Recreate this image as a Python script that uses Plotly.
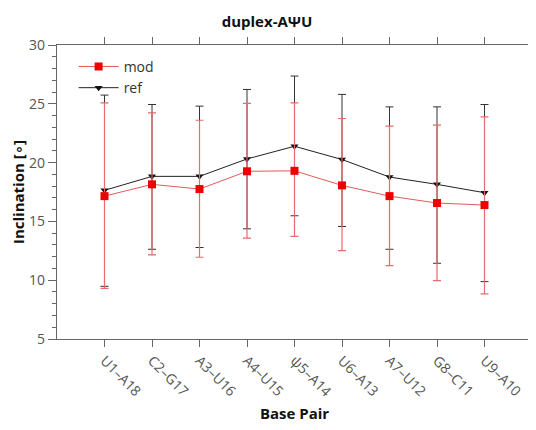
import plotly.graph_objects as go

categories = ["U1–A18", "C2–G17", "A3–U16", "A4–U15", "ψ5–A14", "U6–A13", "A7–U12", "G8–C11", "U9–A10"]
positions = [1, 2, 3, 4, 5, 6, 7, 8, 9]

mod_mean = [17.15, 18.15, 17.75, 19.26, 19.3, 18.06, 17.15, 16.56, 16.39]
mod_upper = [25.08, 24.23, 23.6, 25.03, 25.08, 23.75, 23.1, 23.18, 23.89]
mod_lower = [9.31, 12.16, 11.95, 13.57, 13.72, 12.52, 11.24, 9.97, 8.83]

ref_mean = [17.64, 18.83, 18.83, 20.31, 21.39, 20.26, 18.77, 18.15, 17.44]
ref_upper = [25.74, 24.94, 24.8, 26.22, 27.36, 25.8, 24.74, 24.74, 24.94]
ref_lower = [9.48, 12.63, 12.78, 14.37, 15.48, 14.57, 12.63, 11.44, 9.88]

font_family = "Open Sans, Noto Sans, DejaVu Sans, sans-serif"

fig = go.Figure()

fig.add_trace(go.Scatter(
    x=positions, y=ref_mean, name="ref", mode="lines+markers",
    line=dict(color="#222222", width=1),
    marker=dict(symbol="triangle-down", size=7, color="#111111"),
    error_y=dict(type="data", symmetric=False,
                 array=[u - m for u, m in zip(ref_upper, ref_mean)],
                 arrayminus=[m - l for m, l in zip(ref_mean, ref_lower)],
                 color="#333333", thickness=1, width=4),
    legendrank=2,
))

fig.add_trace(go.Scatter(
    x=positions, y=mod_mean, name="mod", mode="lines+markers",
    line=dict(color="#e45a5a", width=1),
    marker=dict(symbol="square", size=8, color="#ee0000"),
    error_y=dict(type="data", symmetric=False,
                 array=[u - m for u, m in zip(mod_upper, mod_mean)],
                 arrayminus=[m - l for m, l in zip(mod_mean, mod_lower)],
                 color="#e86a6a", thickness=1.2, width=4),
    legendrank=1,
))

# page has an 8px body margin, so the figure is 8px smaller than the window
fig.update_layout(
    width=528, height=422,
    margin=dict(l=49, r=4, t=37, b=91),
    paper_bgcolor="white", plot_bgcolor="white",
    font=dict(family=font_family, color="#555555", size=13),
    title=dict(text="<b>duplex-AΨU</b>", x=0.4905, xanchor="center", y=0.967, yanchor="middle",
               font=dict(size=15, color="#111111", family=font_family)),
    showlegend=True,
    legend=dict(x=0.035, y=0.98, xanchor="left", yanchor="top", bgcolor="rgba(0,0,0,0)",
                font=dict(size=14, color="#333333"), tracegroupgap=0, itemwidth=40),
)

fig.update_xaxes(
    range=[0, 10], tickmode="array", tickvals=positions, ticktext=categories,
    tickangle=45, ticks="outside", ticklen=7, tickcolor="#666666",
    showline=True, linecolor="#666666", linewidth=1.2, mirror="allticks",
    showgrid=False, zeroline=False, automargin=False,
    tickfont=dict(size=14, color="#555555"),
    title=dict(text="<b>Base Pair</b>", font=dict(size=15, color="#111111"), standoff=9),
)

fig.update_yaxes(
    range=[5, 30], tickvals=[5, 10, 15, 20, 25, 30], ticks="outside", ticklen=8,
    tickcolor="#666666", showline=True, linecolor="#666666", linewidth=1.2, mirror="allticks",
    showgrid=False, zeroline=False, automargin=False,
    minor=dict(dtick=1, ticks="outside", ticklen=4, tickcolor="#666666"),
    tickfont=dict(size=14, color="#555555"),
    title=dict(text="<b>Inclination [∘]</b>", font=dict(size=15, color="#111111"), standoff=2),
)

fig.write_html("out.html")
